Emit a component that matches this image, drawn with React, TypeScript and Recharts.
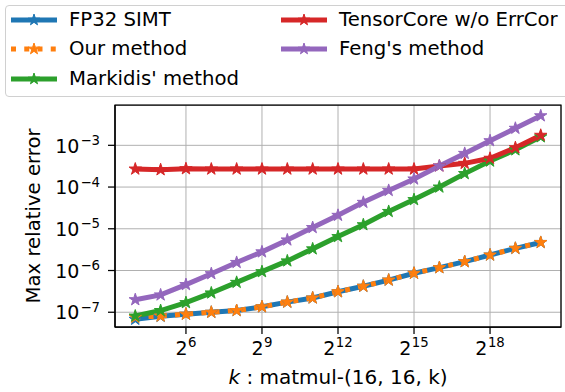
import React from 'react';
import { LineChart, Line, XAxis, YAxis, CartesianGrid, ReferenceArea, Label } from 'recharts';

// x positions as log2(k): k = 2^4 ... 2^20
const kLog2 = [4, 5, 6, 7, 8, 9, 10, 11, 12, 13, 14, 15, 16, 17, 18, 19, 20];
const fp32Simt = [6.8e-8, 8.0e-8, 9.0e-8, 1.0e-7, 1.1e-7, 1.35e-7, 1.75e-7, 2.2e-7, 3.1e-7, 4.2e-7, 5.9e-7, 8.6e-7, 1.17e-6, 1.63e-6, 2.35e-6, 3.4e-6, 4.7e-6];
const ourMethod = [7.6e-8, 8.1e-8, 9.0e-8, 1.0e-7, 1.1e-7, 1.35e-7, 1.75e-7, 2.2e-7, 3.1e-7, 4.2e-7, 5.9e-7, 8.6e-7, 1.17e-6, 1.63e-6, 2.35e-6, 3.4e-6, 4.7e-6];
const markidis = [8.1e-8, 1.1e-7, 1.7e-7, 2.9e-7, 5.2e-7, 9.4e-7, 1.7e-6, 3.3e-6, 6.5e-6, 1.25e-5, 2.6e-5, 5.0e-5, 1.0e-4, 2.1e-4, 4.2e-4, 7.8e-4, 1.6e-3];
const tensorCore = [2.7e-4, 2.6e-4, 2.75e-4, 2.7e-4, 2.7e-4, 2.7e-4, 2.7e-4, 2.7e-4, 2.7e-4, 2.7e-4, 2.7e-4, 2.7e-4, 3.2e-4, 3.7e-4, 4.9e-4, 8.8e-4, 1.74e-3];
const feng = [2.0e-7, 2.6e-7, 4.6e-7, 8.4e-7, 1.56e-6, 2.8e-6, 5.4e-6, 1.07e-5, 2.1e-5, 4.3e-5, 8.3e-5, 1.56e-4, 3.2e-4, 6.4e-4, 1.29e-3, 2.56e-3, 5.1e-3];

const xTicks = [6, 9, 12, 15, 18];
const yTicks = [1e-7, 1e-6, 1e-5, 1e-4, 1e-3];

const seriesNames = ['FP32 SIMT', 'Our method', "Markidis' method", 'TensorCore w/o ErrCor', "Feng's method"];
const seriesColors = ['#1f77b4', '#ff7f0e', '#2ca02c', '#d62728', '#9467bd'];

const data = kLog2.map((k, i) => ({
  k,
  fp32: fp32Simt[i],
  ours: ourMethod[i],
  markidis: markidis[i],
  tc: tensorCore[i],
  feng: feng[i],
}));

const FONT = '"DejaVu Sans", sans-serif';

function starPath(cx: number, cy: number, R: number) {
  const r = R * 0.382;
  let d = '';
  for (let j = 0; j < 10; j++) {
    const a = -Math.PI / 2 + (j * Math.PI) / 5;
    const rr = j % 2 === 0 ? R : r;
    d += (j === 0 ? 'M' : 'L') + (cx + rr * Math.cos(a)).toFixed(2) + ',' + (cy + rr * Math.sin(a)).toFixed(2);
  }
  return d + 'Z';
}

const makeDot = (color: string) => (props: any) => {
  const { cx, cy, index } = props;
  if (cx == null || cy == null) return <g key={index} />;
  return <path key={index} d={starPath(cx, cy, 6.5)} fill={color} stroke={color} strokeWidth={1} />;
};

const XTick = (props: any) => {
  const { x, y, payload } = props;
  return (
    <text x={x} y={y + 18} textAnchor="middle" fontFamily={FONT} fontSize={19} fill="#000">
      <tspan>2</tspan>
      <tspan fontSize={13.3} dy={-7.7} dx={0.5}>{payload.value}</tspan>
    </text>
  );
};

const YTick = (props: any) => {
  const { x, y, payload } = props;
  const e = Math.round(Math.log10(payload.value));
  return (
    <text x={x} y={y + 7.2} textAnchor="end" fontFamily={FONT} fontSize={19} fill="#000">
      <tspan>10</tspan>
      <tspan fontSize={13.3} dy={-7.7} dx={1}>{'\u2212' + Math.abs(e)}</tspan>
    </text>
  );
};

const yMin = 4.43e-8;
const yMax = 9.25e-3;
const xMin = 3.2;
const xMax = 20.8;

const LegendIcon = ({ color, dashed }: { color: string; dashed: boolean }) => (
  <svg width={48} height={14} style={{ display: 'block' }}>
    <line x1={1} y1={7} x2={47} y2={7} stroke={color} strokeWidth={5} strokeDasharray={dashed ? '5 8.25' : undefined} />
    <path d={starPath(24, 7, 6)} fill={color} stroke={color} strokeWidth={1} />
  </svg>
);

const legendPos = [
  { left: 10, top: 12.5 },
  { left: 10, top: 42 },
  { left: 10, top: 71.5 },
  { left: 280, top: 12.5 },
  { left: 280, top: 42 },
];

export default function App() {
  return (
    <div style={{ position: 'absolute', left: 0, top: 0, width: 565, height: 392, overflow: 'hidden', background: '#fff' }}>
      <LineChart width={565} height={392} data={data} margin={{ top: 105, right: 4, left: 0, bottom: 0 }}>
        <CartesianGrid stroke="#b0b0b0" strokeWidth={1} />
        <XAxis
          dataKey="k"
          type="number"
          domain={[xMin, xMax]}
          ticks={xTicks}
          allowDataOverflow
          height={65}
          tickSize={7}
          tickMargin={3}
          tick={<XTick />}
          axisLine={{ stroke: '#000', strokeWidth: 1.25 }}
          tickLine={{ stroke: '#000', strokeWidth: 1.25 }}
        >
          <Label
            content={(p: any) => (
              <text x={338} y={384} textAnchor="middle" fontFamily={FONT} fontSize={20} fill="#000">
                <tspan fontStyle="italic">k</tspan>
                <tspan> : matmul-(16, 16, k)</tspan>
              </text>
            )}
          />
        </XAxis>
        <YAxis
          type="number"
          scale="log"
          domain={[yMin, yMax]}
          ticks={yTicks}
          allowDataOverflow
          width={115}
          tickSize={7}
          tickMargin={8}
          tick={<YTick />}
          axisLine={{ stroke: '#000', strokeWidth: 1.25 }}
          tickLine={{ stroke: '#000', strokeWidth: 1.25 }}
        >
          <Label
            content={(p: any) => (
              <text
                x={40}
                y={216}
                transform="rotate(-90 40 216)"
                textAnchor="middle"
                fontFamily={FONT}
                fontSize={19.7}
                fill="#000"
              >
                Max relative error
              </text>
            )}
          />
        </YAxis>
        <Line dataKey="fp32" stroke={seriesColors[0]} strokeWidth={5} dot={makeDot(seriesColors[0])} isAnimationActive={false} />
        <Line dataKey="ours" stroke={seriesColors[1]} strokeWidth={5} strokeDasharray="5 8.25" dot={makeDot(seriesColors[1])} isAnimationActive={false} />
        <Line dataKey="markidis" stroke={seriesColors[2]} strokeWidth={5} dot={makeDot(seriesColors[2])} isAnimationActive={false} />
        <Line dataKey="tc" stroke={seriesColors[3]} strokeWidth={5} dot={makeDot(seriesColors[3])} isAnimationActive={false} />
        <Line dataKey="feng" stroke={seriesColors[4]} strokeWidth={5} dot={makeDot(seriesColors[4])} isAnimationActive={false} />
        <ReferenceArea x1={xMin} x2={xMax} y1={yMin} y2={yMax} fill="none" stroke="#000" strokeWidth={1.25} ifOverflow="visible" />
      </LineChart>
      <div
        style={{
          position: 'absolute',
          left: 5,
          top: 5,
          width: 620,
          height: 92,
          border: '1px solid #d0d0d0',
          borderRadius: 4,
          background: 'rgba(255,255,255,0.8)',
          boxSizing: 'border-box',
        }}
      />
      {seriesNames.map((name, i) => (
        <div
          key={name}
          style={{
            position: 'absolute',
            left: legendPos[i].left,
            top: legendPos[i].top,
            display: 'flex',
            alignItems: 'center',
            fontFamily: FONT,
            fontSize: 19.7,
            color: '#000',
            whiteSpace: 'nowrap',
            lineHeight: '14px',
          }}
        >
          <LegendIcon color={seriesColors[i]} dashed={i === 1} />
          <span style={{ marginLeft: 11 }}>{name}</span>
        </div>
      ))}
    </div>
  );
}
